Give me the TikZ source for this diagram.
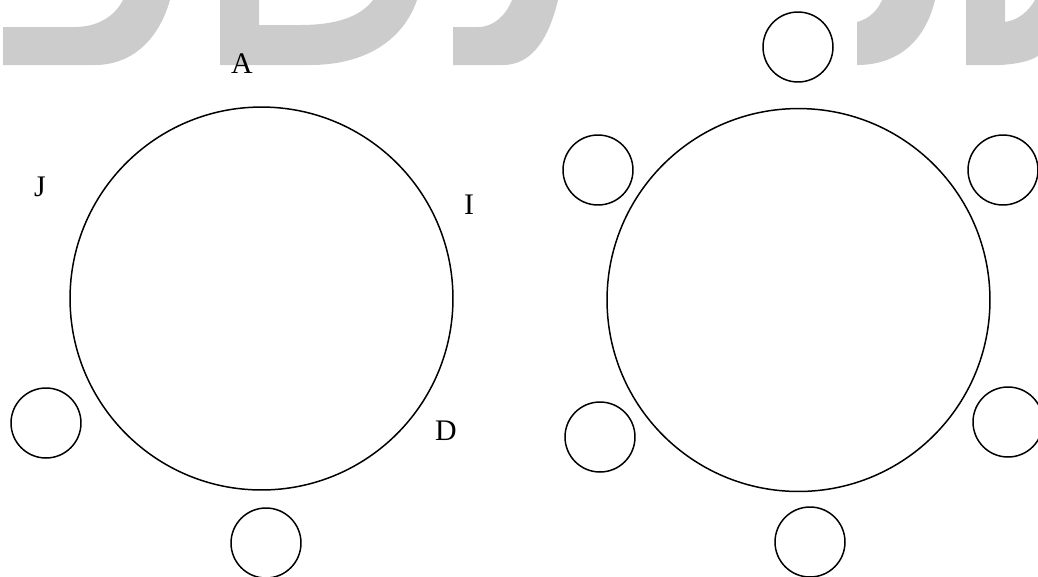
\documentclass[tikz,border=0pt]{standalone}
\usepackage{fontspec}
\setmainfont{Liberation Serif}
\usepackage{tikz}
\usetikzlibrary{positioning}

\begin{document}
\begin{tikzpicture}[
    x=0.02cm, y=-0.02cm,
    table/.style={circle, draw=black, line width=0.85pt, inner sep=0pt, minimum size=7.66cm},
    seat/.style={circle, draw=black, line width=0.85pt, inner sep=0pt, minimum size=1.4cm},
    label/.style={inner sep=0pt, font=\fontsize{17}{20}\selectfont},
    wmark/.style={fill=black!20, draw=none}
]
\useasboundingbox (0,0) rectangle (1038,576);

% Watermark shapes along the top edge
\fill[wmark] (3,27) -- (75,27) .. controls (100,27) and (116,14) .. (123,0) -- (170,0) .. controls (158,42) and (130,65) .. (95,65) -- (3,65) -- cycle;
\fill[wmark] (220,0) -- (220,65) -- (310,65) .. controls (368,65) and (404,38) .. (417,0) -- (373,0) .. controls (360,17) and (336,25) .. (300,25) -- (259,25) -- (259,0) -- cycle;
\fill[wmark] (453,27) -- (478,27) .. controls (494,27) and (506,15) .. (512,0) -- (558,0) .. controls (548,42) and (530,65) .. (503,65) -- (453,65) -- cycle;
\fill[wmark] (857,22) .. controls (869,19) and (878,10) .. (882,0) -- (935,0) .. controls (925,42) and (897,65) .. (857,65) -- cycle;
\fill[wmark] (966,0) -- (966,65) -- (1000,65) .. controls (1018,64) and (1030,61) .. (1038,56) -- (1038,0) -- (1035,0) .. controls (1028,12) and (1018,20) .. (1005,22) -- (1005,0) -- cycle;

% Left table
\node[table] (tableL) at (261.5,298.5) {};
\node[seat] (seatL1) at (46,423) {};
\node[seat] (seatL2) at (266,543) {};

\node[label] (lblA) at (242,64) {A};
\node[label] (lblJ) at (40,187) {J};
\node[label] (lblI) at (469,205) {I};
\node[label] (lblD) at (446,431) {D};

% Right table
\node[table] (tableR) at (798.5,300) {};
\node[seat] (seatR1) at (798,47) {};
\node[seat] (seatR2) at (598,170) {};
\node[seat] (seatR3) at (1003,170) {};
\node[seat] (seatR4) at (600,437) {};
\node[seat] (seatR5) at (1008,422) {};
\node[seat] (seatR6) at (810,542) {};
\end{tikzpicture}
\end{document}
